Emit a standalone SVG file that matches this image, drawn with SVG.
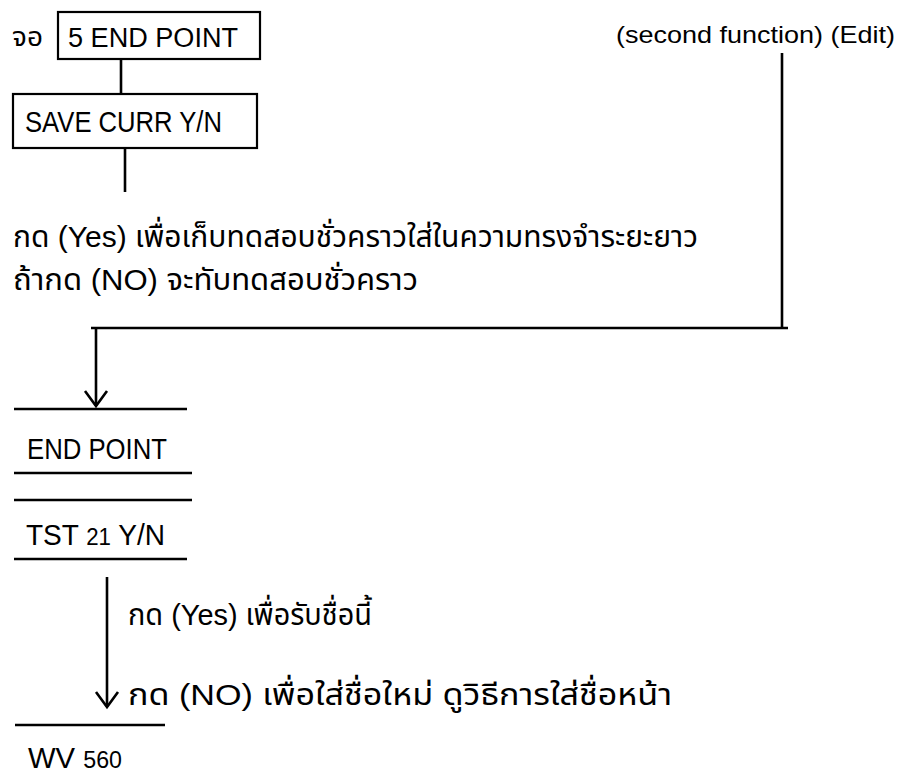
<svg xmlns="http://www.w3.org/2000/svg" width="902" height="780" viewBox="0 0 902 780">
<defs>
<style>
.t{font-family:"Liberation Sans","Noto Sans Thai","Noto Sans",sans-serif;fill:#000}
.th{font-size:30px}
.box{fill:#fff;stroke:#000;stroke-width:2.2}
.ln{stroke:#000;stroke-width:2.6;fill:none}
.bar{stroke:#000;stroke-width:2.6}
</style>
<marker id="arr" viewBox="-17 -13 19 26" refX="0" refY="0" markerWidth="19" markerHeight="26" markerUnits="userSpaceOnUse" orient="auto" overflow="visible">
<path d="M-15,-11 L0,0 L-15,11" fill="none" stroke="#000" stroke-width="2.6"/>
</marker>
</defs>
<rect width="902" height="780" fill="#fff"/>
<g id="connectors">
<line class="ln" x1="121" y1="59" x2="121" y2="94"/>
<line class="ln" x1="125" y1="148" x2="125" y2="192"/>
<line class="ln" x1="782" y1="53" x2="782" y2="328"/>
<line class="ln" x1="91" y1="328" x2="788" y2="328"/>
<line class="ln" x1="96" y1="328" x2="96" y2="406" marker-end="url(#arr)"/>
<line class="ln" x1="107" y1="577" x2="107" y2="707" marker-end="url(#arr)"/>
</g>
<g id="screen-label">
<text class="t" x="12" y="46" font-size="27" textLength="31" lengthAdjust="spacingAndGlyphs">จอ</text>
</g>
<g id="box-end-point">
<rect class="box" x="58" y="12" width="202" height="47"/>
<text class="t" x="68" y="47" font-size="27" textLength="170" lengthAdjust="spacingAndGlyphs">5 END POINT</text>
</g>
<g id="box-save-curr">
<rect class="box" x="13" y="94" width="244" height="54"/>
<text class="t" x="25" y="132" font-size="30" textLength="197" lengthAdjust="spacingAndGlyphs">SAVE CURR Y/N</text>
</g>
<g id="top-right-label">
<text class="t" x="616" y="43" font-size="24" textLength="279" lengthAdjust="spacingAndGlyphs">(second function) (Edit)</text>
</g>
<g id="note-save">
<text class="t th" x="13" y="247" textLength="685" lengthAdjust="spacingAndGlyphs">กด (Yes) เพื่อเก็บทดสอบชั่วคราวใส่ในความทรงจำระยะยาว</text>
<text class="t th" x="13" y="290" textLength="405" lengthAdjust="spacingAndGlyphs">ถ้ากด (NO) จะทับทดสอบชั่วคราว</text>
</g>
<g id="display-end-point">
<line class="bar" x1="14" y1="409" x2="187" y2="409"/>
<text class="t" x="27" y="459" font-size="29" textLength="140" lengthAdjust="spacingAndGlyphs">END POINT</text>
<line class="bar" x1="14" y1="473" x2="192" y2="473"/>
</g>
<g id="display-tst">
<line class="bar" x1="14" y1="500" x2="192" y2="500"/>
<text class="t" x="26" y="545" font-size="29" textLength="139" lengthAdjust="spacingAndGlyphs">TST <tspan font-size="23">21</tspan> Y/N</text>
<line class="bar" x1="14" y1="559" x2="187" y2="559"/>
</g>
<g id="note-name">
<text class="t th" x="128" y="625" textLength="244" lengthAdjust="spacingAndGlyphs">กด (Yes) เพื่อรับชื่อนี้</text>
<text class="t th" x="128" y="705" textLength="544" lengthAdjust="spacingAndGlyphs">กด (NO) เพื่อใส่ชื่อใหม่ ดูวิธีการใส่ชื่อหน้า</text>
</g>
<g id="display-wv">
<line class="bar" x1="15" y1="725" x2="165" y2="725"/>
<text class="t" x="28" y="768" font-size="29" textLength="94" lengthAdjust="spacingAndGlyphs">WV <tspan font-size="23">560</tspan></text>
</g>
</svg>
